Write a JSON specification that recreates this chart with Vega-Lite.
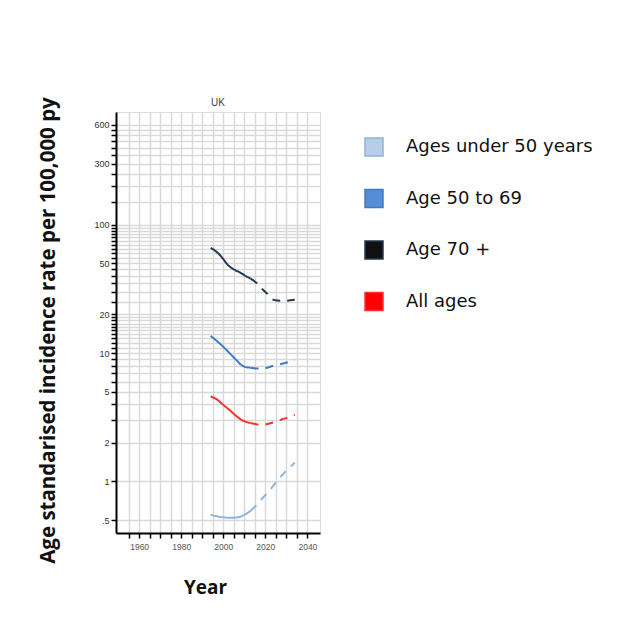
{
  "$schema": "https://vega.github.io/schema/vega-lite/v6.json",
  "autosize": {"type": "none"},
  "padding": {"left": 116, "top": 112, "right": 324, "bottom": 98},
  "width": 204,
  "height": 421,
  "background": "white",
  "title": {"text": "UK", "fontSize": 10, "fontWeight": "normal", "font": "Liberation Sans", "color": "#444444", "offset": -11, "anchor": "middle", "frame": "group"},
  "data": {"values": [
    {"group": "Age 70 +", "period": "observed", "year": 1994, "rate": 66},
    {"group": "Age 70 +", "period": "observed", "year": 1996, "rate": 63},
    {"group": "Age 70 +", "period": "observed", "year": 1998, "rate": 59},
    {"group": "Age 70 +", "period": "observed", "year": 2000, "rate": 54},
    {"group": "Age 70 +", "period": "observed", "year": 2002, "rate": 49},
    {"group": "Age 70 +", "period": "observed", "year": 2004, "rate": 46},
    {"group": "Age 70 +", "period": "observed", "year": 2006, "rate": 44},
    {"group": "Age 70 +", "period": "observed", "year": 2008, "rate": 42.5},
    {"group": "Age 70 +", "period": "observed", "year": 2010, "rate": 40.5},
    {"group": "Age 70 +", "period": "observed", "year": 2013, "rate": 38},
    {"group": "Age 70 +", "period": "projected", "year": 2013, "rate": 38},
    {"group": "Age 70 +", "period": "projected", "year": 2016, "rate": 35},
    {"group": "Age 70 +", "period": "projected", "year": 2019, "rate": 31},
    {"group": "Age 70 +", "period": "projected", "year": 2022, "rate": 28},
    {"group": "Age 70 +", "period": "projected", "year": 2024, "rate": 26},
    {"group": "Age 70 +", "period": "projected", "year": 2027, "rate": 25.6},
    {"group": "Age 70 +", "period": "projected", "year": 2030, "rate": 25.6},
    {"group": "Age 70 +", "period": "projected", "year": 2034, "rate": 26},
    {"group": "Age 50 to 69", "period": "observed", "year": 1994, "rate": 13.6},
    {"group": "Age 50 to 69", "period": "observed", "year": 1997, "rate": 12.4},
    {"group": "Age 50 to 69", "period": "observed", "year": 2000, "rate": 11.2},
    {"group": "Age 50 to 69", "period": "observed", "year": 2003, "rate": 10.0},
    {"group": "Age 50 to 69", "period": "observed", "year": 2006, "rate": 8.9},
    {"group": "Age 50 to 69", "period": "observed", "year": 2009, "rate": 8.0},
    {"group": "Age 50 to 69", "period": "observed", "year": 2011, "rate": 7.75},
    {"group": "Age 50 to 69", "period": "observed", "year": 2013, "rate": 7.7},
    {"group": "Age 50 to 69", "period": "projected", "year": 2013, "rate": 7.7},
    {"group": "Age 50 to 69", "period": "projected", "year": 2016, "rate": 7.6},
    {"group": "Age 50 to 69", "period": "projected", "year": 2019, "rate": 7.6},
    {"group": "Age 50 to 69", "period": "projected", "year": 2022, "rate": 7.8},
    {"group": "Age 50 to 69", "period": "projected", "year": 2025, "rate": 8.05},
    {"group": "Age 50 to 69", "period": "projected", "year": 2028, "rate": 8.25},
    {"group": "Age 50 to 69", "period": "projected", "year": 2031, "rate": 8.5},
    {"group": "Age 50 to 69", "period": "projected", "year": 2034, "rate": 8.8},
    {"group": "All ages", "period": "observed", "year": 1994, "rate": 4.6},
    {"group": "All ages", "period": "observed", "year": 1997, "rate": 4.35},
    {"group": "All ages", "period": "observed", "year": 2000, "rate": 3.95},
    {"group": "All ages", "period": "observed", "year": 2003, "rate": 3.6},
    {"group": "All ages", "period": "observed", "year": 2006, "rate": 3.25},
    {"group": "All ages", "period": "observed", "year": 2009, "rate": 3.0},
    {"group": "All ages", "period": "observed", "year": 2013, "rate": 2.85},
    {"group": "All ages", "period": "projected", "year": 2013, "rate": 2.85},
    {"group": "All ages", "period": "projected", "year": 2016, "rate": 2.78},
    {"group": "All ages", "period": "projected", "year": 2018, "rate": 2.75},
    {"group": "All ages", "period": "projected", "year": 2021, "rate": 2.8},
    {"group": "All ages", "period": "projected", "year": 2025, "rate": 2.92},
    {"group": "All ages", "period": "projected", "year": 2028, "rate": 3.05},
    {"group": "All ages", "period": "projected", "year": 2031, "rate": 3.15},
    {"group": "All ages", "period": "projected", "year": 2034, "rate": 3.3},
    {"group": "Ages under 50 years", "period": "observed", "year": 1994, "rate": 0.55},
    {"group": "Ages under 50 years", "period": "observed", "year": 1997, "rate": 0.535},
    {"group": "Ages under 50 years", "period": "observed", "year": 2000, "rate": 0.525},
    {"group": "Ages under 50 years", "period": "observed", "year": 2004, "rate": 0.52},
    {"group": "Ages under 50 years", "period": "observed", "year": 2008, "rate": 0.53},
    {"group": "Ages under 50 years", "period": "observed", "year": 2011, "rate": 0.56},
    {"group": "Ages under 50 years", "period": "observed", "year": 2013, "rate": 0.59},
    {"group": "Ages under 50 years", "period": "projected", "year": 2013, "rate": 0.59},
    {"group": "Ages under 50 years", "period": "projected", "year": 2016, "rate": 0.66},
    {"group": "Ages under 50 years", "period": "projected", "year": 2019, "rate": 0.75},
    {"group": "Ages under 50 years", "period": "projected", "year": 2022, "rate": 0.85},
    {"group": "Ages under 50 years", "period": "projected", "year": 2025, "rate": 0.98},
    {"group": "Ages under 50 years", "period": "projected", "year": 2028, "rate": 1.12},
    {"group": "Ages under 50 years", "period": "projected", "year": 2031, "rate": 1.26},
    {"group": "Ages under 50 years", "period": "projected", "year": 2034, "rate": 1.4}
  ]},
  "mark": {"type": "line", "strokeWidth": 2, "interpolate": "monotone"},
  "encoding": {
    "x": {
      "field": "year", "type": "quantitative",
      "scale": {"domain": [1949, 2046], "nice": false, "zero": false},
      "axis": {
        "values": [1955, 1960, 1965, 1970, 1975, 1980, 1985, 1990, 1995, 2000, 2005, 2010, 2015, 2020, 2025, 2030, 2035, 2040],
        "labelExpr": "datum.value % 20 == 0 ? datum.label : ''",
        "format": "d",
        "labelOverlap": false,
        "labelFontSize": 8.5,
        "labelFont": "Liberation Sans",
        "labelColor": "#555555",
        "labelPadding": 4,
        "tickSize": 5,
        "tickWidth": 1.5,
        "tickColor": "black",
        "domainColor": "black",
        "domainWidth": 2,
        "grid": true,
        "gridColor": "#d9d9d9",
        "gridWidth": 1.5,
        "title": "Year",
        "titleFont": "Open Sans",
        "titleFontSize": 19,
        "titleFontWeight": "bold",
        "titleColor": "#111111",
        "titlePadding": 28,
        "titleX": 89
      }
    },
    "y": {
      "field": "rate", "type": "quantitative",
      "scale": {"type": "log", "domain": [0.396, 757], "nice": false},
      "axis": {
        "values": [0.5, 1, 2, 3, 4, 5, 6, 7, 8, 9, 10, 11, 12, 13, 14, 15, 16, 17, 18, 19, 20, 25, 30, 35, 40, 45, 50, 55, 60, 65, 70, 75, 80, 85, 90, 95, 100, 150, 200, 250, 300, 350, 400, 450, 500, 550, 600],
        "labelExpr": "datum.value == 0.5 ? '.5' : (indexof([600, 300, 100, 50, 20, 10, 5, 2, 1], datum.value) >= 0 ? format(datum.value, 'd') : '')",
        "labelOverlap": false,
        "labelFontSize": 9,
        "labelFont": "Liberation Sans",
        "labelColor": "#333333",
        "labelPadding": 2,
        "tickSize": 5,
        "tickWidth": 1.5,
        "tickColor": "black",
        "domainColor": "black",
        "domainWidth": 2,
        "grid": true,
        "gridColor": "#d9d9d9",
        "gridWidth": 1.5,
        "title": "Age standarised incidence rate per 100,000 py",
        "titleFont": "Open Sans",
        "titleFontSize": 20.5,
        "titleFontWeight": "bold",
        "titleColor": "#111111",
        "titlePadding": 35,
        "titleY": 218
      }
    },
    "color": {
      "field": "group", "type": "nominal",
      "scale": {
        "domain": ["Ages under 50 years", "Age 50 to 69", "Age 70 +", "All ages"],
        "range": ["#8fb4dc", "#3d7dc4", "#243a52", "#ff3030"]
      },
      "legend": {
        "orient": "none",
        "legendX": 248,
        "legendY": 25,
        "title": null,
        "padding": 0,
        "symbolType": "square",
        "symbolSize": 324,
        "symbolStrokeWidth": 1.5,
        "labelFont": "DejaVu Sans",
        "labelFontSize": 18,
        "labelColor": "#111111",
        "labelOffset": 22,
        "rowPadding": 27.5,
        "labelLimit": 300,
        "encode": {
          "symbols": {
            "update": {
              "fill": {"signal": "datum.value == 'Age 70 +' ? '#111111' : datum.value == 'Ages under 50 years' ? '#b9cde5' : datum.value == 'Age 50 to 69' ? '#558ed5' : '#ff0000'"},
              "stroke": {"value": "#222222"},
              "strokeWidth": {"value": 1.5},
              "opacity": {"value": 1},
              "fillOpacity": {"value": 1}
            }
          }
        }
      }
    },
    "strokeDash": {
      "field": "period", "type": "nominal",
      "scale": {"domain": ["observed", "projected"], "range": [[1, 0], [8, 7]]},
      "legend": null
    }
  }
}
